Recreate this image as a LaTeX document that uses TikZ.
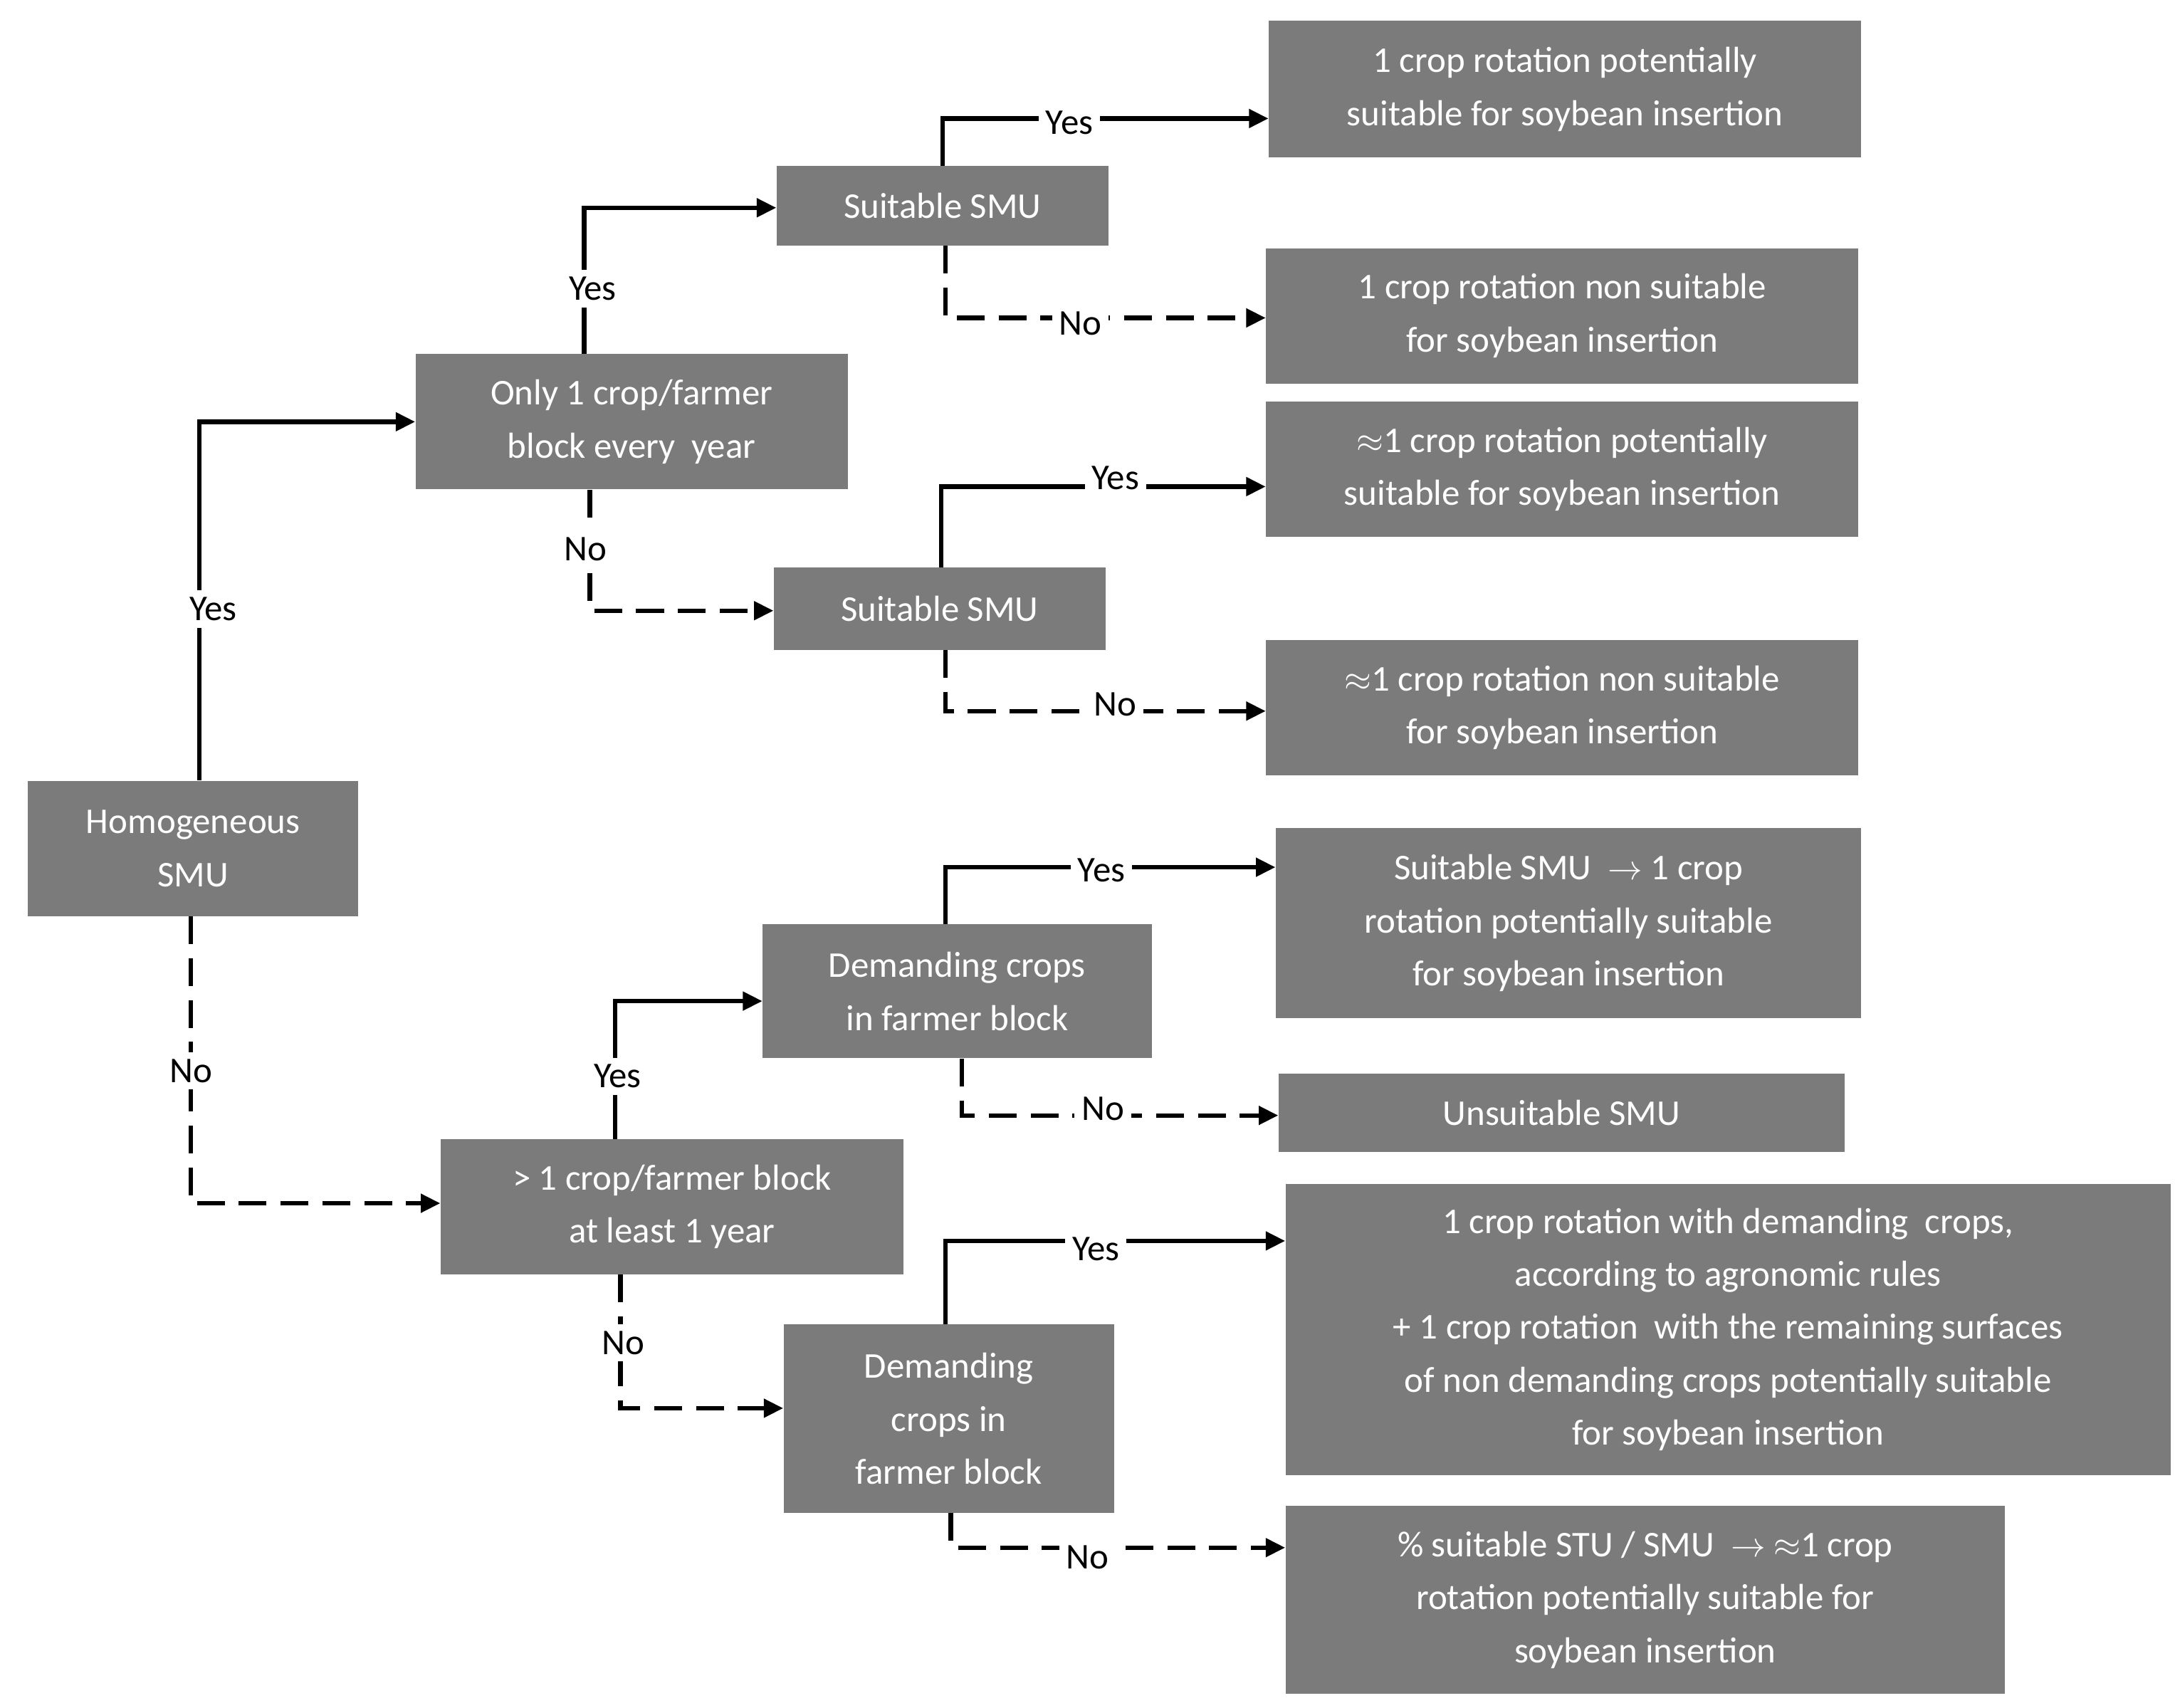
\documentclass[tikz,border=0pt]{standalone}
\usepackage{fontspec}
\setmainfont{Carlito}
\usetikzlibrary{arrows.meta}
\definecolor{boxg}{HTML}{7B7B7B}
\begin{document}
\begin{tikzpicture}[x=1pt,y=-1pt,
 box/.style={draw=none,fill=boxg,text=white,align=center,font=\fontsize{26}{38}\selectfont,inner sep=0pt},
 lab/.style={fill=white,font=\fontsize{26}{30}\selectfont,inner sep=5pt},
 sol/.style={line width=3.2pt,-{Triangle[length=14pt,width=13pt]}},
 das/.style={sol,dash pattern=on 20pt off 10pt}]
\useasboundingbox (0,0) rectangle (1560,1225);
% boxes: center (x,y), width, height
\node[box,minimum width=237,minimum height=97] (h) at (138.5,608.5) {Homogeneous\\SMU};
\node[box,minimum width=310,minimum height=97] (o) at (453,302.5) {Only 1 crop/farmer\\block every\ \ year};
\node[box,minimum width=238,minimum height=57] (s1) at (676,147.5) {Suitable SMU};
\node[box,minimum width=238,minimum height=59] (s2) at (674,436.5) {Suitable SMU};
\node[box,minimum width=425,minimum height=98] (r1) at (1122.5,64) {1 crop rotation potentially\\suitable for soybean insertion};
\node[box,minimum width=425,minimum height=97] (r2) at (1120.5,226.5) {1 crop rotation non suitable\\for soybean insertion};
\node[box,minimum width=425,minimum height=97] (r3) at (1120.5,336.5) {$\approx$1 crop rotation potentially\\suitable for soybean insertion};
\node[box,minimum width=425,minimum height=97] (r4) at (1120.5,507.5) {$\approx$1 crop rotation non suitable\\for soybean insertion};
\node[box,minimum width=332,minimum height=97] (m) at (482,865.5) {> 1 crop/farmer block\\at least 1 year};
\node[box,minimum width=279,minimum height=96] (d1) at (686.5,711) {Demanding crops\\in farmer block};
\node[box,minimum width=237,minimum height=135] (d2) at (680.5,1017.5) {Demanding\\crops in\\farmer block};
\node[box,minimum width=420,minimum height=136] (r5) at (1125,662) {Suitable SMU\ \ $\rightarrow$ 1 crop\\rotation potentially suitable\\for soybean insertion};
\node[box,minimum width=406,minimum height=56] (r6u) at (1120,798) {Unsuitable SMU};
\node[box,minimum width=635,minimum height=209] (r6) at (1239.5,953.5) {1 crop rotation with demanding\ \ crops,\\according to agronomic rules\\+ 1 crop rotation\ \ with the remaining surfaces\\of non demanding crops potentially suitable\\for soybean insertion};
\node[box,minimum width=516,minimum height=135] (r7) at (1180,1147.5) {\% suitable STU / SMU\ \ $\rightarrow$ $\approx$1 crop\\rotation potentially suitable for\\soybean insertion};
% connectors
\draw[sol] ([xshift=4.5]h.north) |- (o.west);
\node[lab] (l1) at (153,437) {Yes};
\draw[das] ([xshift=-1.5]h.south) |- ([yshift=2.5]m.west);
\node[lab] (l2) at (137,768) {No};
\draw[sol] ([xshift=-34]o.north) |- ([yshift=-1.5]s1.west);
\node[lab] (l3) at (425,207) {Yes};
\draw[das] ([xshift=-30]o.south) |- ([yshift=-1.5]s2.west);
\node[lab] (l4) at (420,394) {No};
\draw[sol] (s1.north) |- ([yshift=-21]r1.west);
\node[lab] (l5) at (767,88) {Yes};
\draw[das] ([xshift=2]s1.south) |- ([yshift=-1.5]r2.west);
\node[lab] (l6) at (775,232) {No};
\draw[sol] ([xshift=1]s2.north) |- ([yshift=-12.5]r3.west);
\node[lab] (l7) at (800,343) {Yes};
\draw[das] ([xshift=4]s2.south) |- ([yshift=-2.5]r4.west);
\node[lab] (l8) at (800,505) {No};
\draw[sol] ([xshift=-41]m.north) |- ([yshift=-7]d1.west);
\node[lab] (l9) at (443,772) {Yes};
\draw[das] ([xshift=-37]m.south) |- ([yshift=7.5]d2.west);
\node[lab] (l10) at (447,963) {No};
\draw[sol] ([xshift=-8.5]d1.north) |- ([yshift=40]r5.west);
\node[lab] (l11) at (790,624) {Yes};
\draw[das] ([xshift=3.5]d1.south) |- ([yshift=-2]r6u.west);
\node[lab] (l12) at (791,795) {No};
\draw[sol] ([xshift=-2.5]d2.north) |- ([yshift=63.5]r6.west);
\node[lab] (l13) at (786,896) {Yes};
\draw[das] ([xshift=1.5]d2.south) |- ([yshift=37.5]r7.west);
\node[lab] (l14) at (780,1117) {No};
\end{tikzpicture}
\end{document}
